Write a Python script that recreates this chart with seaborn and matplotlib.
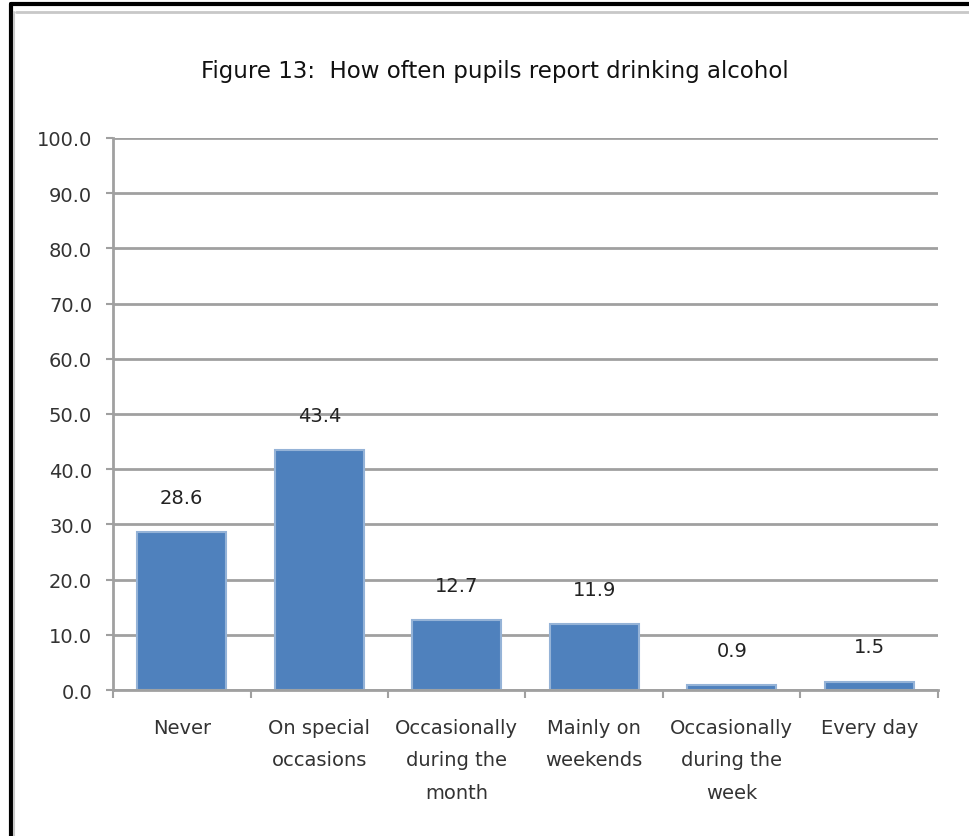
import matplotlib
matplotlib.use("Agg")
import matplotlib.pyplot as plt
import seaborn as sns
import pandas as pd
from matplotlib.lines import Line2D

# Data
categories = ["Never", "On special\noccasions", "Occasionally\nduring the\nmonth",
              "Mainly on\nweekends", "Occasionally\nduring the\nweek", "Every day"]
percent = [28.6, 43.4, 12.7, 11.9, 0.9, 1.5]
y_ticks = [0, 10, 20, 30, 40, 50, 60, 70, 80, 90, 100]

df = pd.DataFrame({"category": categories, "percent": percent})

sns.set_style("white")
plt.rcParams["font.family"] = ["DejaVu Sans"]

fig = plt.figure(figsize=(9.7, 8.37), dpi=100)
ax = fig.add_axes([0.1165, 0.1744, 0.8505, 0.6596])

sns.barplot(data=df, x="category", y="percent", color="#4F81BD", width=0.65,
            edgecolor="#95B3D7", linewidth=1.5, saturation=1, ax=ax)

ax.set_ylim(0, 100)
ax.set_xlim(-0.5, len(categories) - 0.5)
ax.set_yticks(y_ticks)
ax.set_yticklabels([f"{t:.1f}" for t in y_ticks], fontsize=14, color="#333333")
ax.yaxis.grid(True, color="#A0A0A0", linewidth=2)
ax.set_axisbelow(True)
ax.tick_params(axis="y", length=5, width=1.5, color="#A0A0A0", pad=10, left=True)

# x ticks sit between categories, labels in the middle
ax.set_xticks([i - 0.5 for i in range(len(categories) + 1)], minor=False)
ax.set_xticklabels([])
ax.set_xticks(range(len(categories)), minor=True)
ax.set_xticklabels(categories, minor=True, fontsize=14, color="#333333",
                   linespacing=1.9)
ax.tick_params(axis="x", which="major", length=6, width=1.5, color="#A0A0A0",
               bottom=True, direction="out")
ax.tick_params(axis="x", which="minor", length=0, pad=20)

for side in ["top", "right"]:
    ax.spines[side].set_visible(False)
for side in ["left", "bottom"]:
    ax.spines[side].set_color("#A0A0A0")
    ax.spines[side].set_linewidth(2)

for i, v in enumerate(percent):
    ax.text(i, v + 6.3, f"{v:.1f}", ha="center", va="center",
            fontsize=14, color="#222222")

ax.set_xlabel("")
ax.set_ylabel("")

fig.text(0.51, 0.915, "Figure 13:  How often pupils report drinking alcohol",
         ha="center", va="center", fontsize=16.5, color="#111111")

# chart frame
fig.add_artist(Line2D([0.011, 0.011], [0, 0.994], transform=fig.transFigure,
                      color="black", linewidth=3))
fig.add_artist(Line2D([0.011, 1.0], [0.994, 0.994], transform=fig.transFigure,
                      color="black", linewidth=3))
fig.add_artist(Line2D([0.016, 1.0], [0.985, 0.985], transform=fig.transFigure,
                      color="#C8C8C8", linewidth=2))
fig.add_artist(Line2D([0.0145, 0.0145], [0, 0.985], transform=fig.transFigure,
                      color="#C8C8C8", linewidth=1.5))

fig.savefig("out.png", dpi=100)
